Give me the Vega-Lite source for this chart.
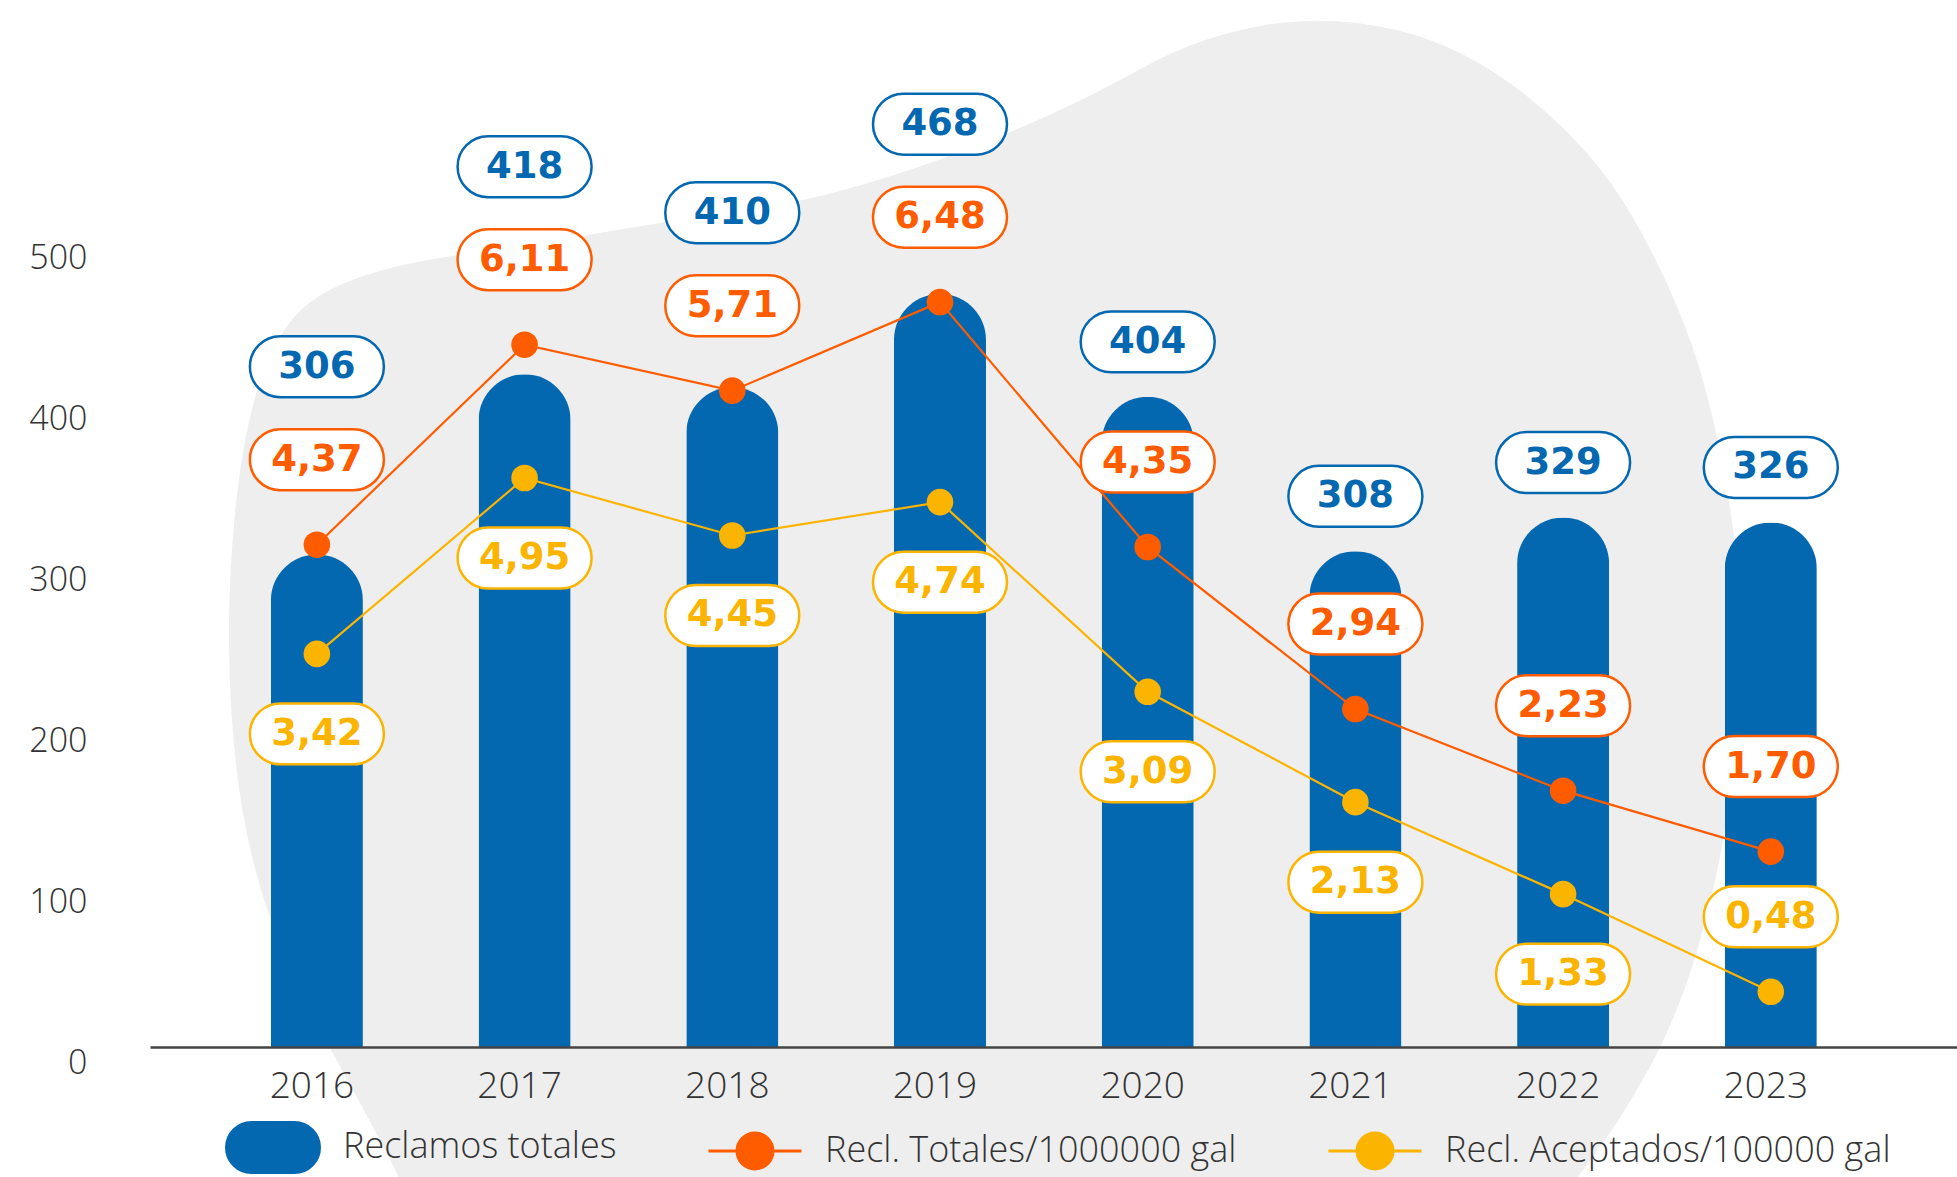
{
  "$schema": "https://vega.github.io/schema/vega-lite/v6.json",
  "width": 1807,
  "height": 1046,
  "autosize": {"type": "none"},
  "padding": {"left": 150, "top": 1, "right": 0, "bottom": 130},
  "background": "#FFFFFF",
  "config": {
    "view": {"stroke": null},
    "font": "Open Sans",
    "locale": {"number": {"decimal": ",", "thousands": ".", "grouping": [3], "currency": ["", ""]}}
  },
  "data": {
    "values": [
      {"year": "2016", "reclamos": 306, "totales": 4.37, "aceptados": 3.42},
      {"year": "2017", "reclamos": 418, "totales": 6.11, "aceptados": 4.95},
      {"year": "2018", "reclamos": 410, "totales": 5.71, "aceptados": 4.45},
      {"year": "2019", "reclamos": 468, "totales": 6.48, "aceptados": 4.74},
      {"year": "2020", "reclamos": 404, "totales": 4.35, "aceptados": 3.09},
      {"year": "2021", "reclamos": 308, "totales": 2.94, "aceptados": 2.13},
      {"year": "2022", "reclamos": 329, "totales": 2.23, "aceptados": 1.33},
      {"year": "2023", "reclamos": 326, "totales": 1.70, "aceptados": 0.48}
    ]
  },
  "encoding": {
    "x": {
      "field": "year", "type": "ordinal", "title": null,
      "scale": {"domain": ["2016", "2017", "2018", "2019", "2020", "2021", "2022", "2023"], "paddingInner": 0.557, "paddingOuter": 0.6285, "align": 0.463},
      "axis": {"zindex": 1, "ticks": false, "grid": false, "domainColor": "#444444", "domainWidth": 2.5, "labelFont": "Open Sans", "labelFontSize": 37, "labelFontWeight": 300, "labelColor": "#333333", "labelPadding": 21, "labelAngle": 0, "labelOffset": -5}
    }
  },
  "layer": [
    {
      "data": {"values": [{}]},
      "mark": {"type": "point", "shape": "M 0.1165 -0.539 Q 0.181 -0.55 0.2495 -0.534 Q 0.318 -0.518 0.3825 -0.4655 Q 0.447 -0.413 0.4845 -0.348 Q 0.522 -0.283 0.5445 -0.218 Q 0.567 -0.153 0.582 -0.058 Q 0.597 0.037 0.593 0.112 Q 0.589 0.187 0.5795 0.251 Q 0.57 0.315 0.5505 0.3825 Q 0.531 0.45 0.502 0.503 Q 0.473 0.556 0.4425 0.5965 Q 0.412 0.637 0.372 0.677 Q 0.332 0.717 -0.183 0.717 Q -0.698 0.717 -0.723 0.6655 Q -0.748 0.614 -0.768 0.5755 Q -0.788 0.537 -0.8105 0.497 Q -0.833 0.457 -0.857 0.405 Q -0.881 0.353 -0.896 0.291 Q -0.911 0.229 -0.916 0.151 Q -0.921 0.073 -0.917 0.005 Q -0.913 -0.063 -0.9045 -0.113 Q -0.896 -0.163 -0.882 -0.198 Q -0.868 -0.233 -0.848 -0.253 Q -0.828 -0.273 -0.788 -0.287 Q -0.748 -0.301 -0.681 -0.3105 Q -0.614 -0.32 -0.547 -0.3315 Q -0.48 -0.343 -0.4175 -0.3515 Q -0.355 -0.36 -0.3015 -0.375 Q -0.248 -0.39 -0.203 -0.4065 Q -0.158 -0.423 -0.109 -0.4445 Q -0.06 -0.466 -0.004 -0.497 Q 0.052 -0.528 0.1165 -0.539 Z", "size": 4000000, "filled": true, "fill": "#EEEEEE", "opacity": 1, "strokeWidth": 0},
      "encoding": {
        "x": {"datum": "2020", "type": "ordinal", "title": null},
        "y": {"datum": 300, "type": "quantitative", "scale": {"domain": [0, 650], "nice": false}, "axis": null}
      }
    },
    {
      "mark": {"type": "bar", "cornerRadiusTopLeft": 46, "cornerRadiusTopRight": 46},
      "encoding": {
        "y": {
          "field": "reclamos", "type": "quantitative", "title": null,
          "scale": {"domain": [0, 650], "nice": false},
          "axis": {"values": [0, 100, 200, 300, 400, 500], "ticks": false, "domain": false, "grid": false, "labelPadding": 63, "labelFont": "Open Sans", "labelFontSize": 34, "labelFontWeight": 300, "labelColor": "#333333", "labelOffset": 16}
        },
        "color": {
          "datum": "Reclamos totales",
          "scale": {"domain": ["Reclamos totales", "Recl. Totales/1000000 gal", "Recl. Aceptados/100000 gal"], "range": ["#0468B1", "#FF5C00", "#FBB400"]},
          "legend": {
            "title": null, "orient": "none", "legendX": 75, "legendY": 1098, "direction": "horizontal", "padding": 0,
            "symbolSize": 8649, "symbolStrokeWidth": 3,
            "labelFont": "Open Sans", "labelFontWeight": 300, "labelFontSize": 36, "labelColor": "#333333", "labelOffset": 22, "labelLimit": 1000, "columnPadding": 85, "labelBaseline": "middle",
            "encode": {
              "symbols": {
                "update": {
                  "shape": {"signal": "datum.value === 'Reclamos totales' ? 'M -0.462 -0.538 L 0.462 -0.538 A 0.538 0.538 0 0 1 0.462 0.538 L -0.462 0.538 A 0.538 0.538 0 0 1 -0.462 -0.538 Z' : 'M -1 0 L 1 0 M 0.387 0 A 0.387 0.387 0 1 1 -0.387 0 A 0.387 0.387 0 1 1 0.387 0 Z'"},
                  "fill": {"signal": "datum.value === 'Reclamos totales' ? '#0468B1' : datum.value === 'Recl. Totales/1000000 gal' ? '#FF5C00' : '#FBB400'"},
                  "stroke": {"signal": "datum.value === 'Reclamos totales' ? '#0468B1' : datum.value === 'Recl. Totales/1000000 gal' ? '#FF5C00' : '#FBB400'"},
                  "strokeWidth": {"value": 3},
                  "opacity": {"value": 1},
                  "fillOpacity": {"value": 1}
                }
              }
            }
          }
        }
      }
    },
    {
      "mark": {"type": "line", "strokeWidth": 2.2},
      "encoding": {
        "y": {"field": "totales", "type": "quantitative", "scale": {"domain": [0, 9.1], "nice": false}, "axis": null},
        "color": {"datum": "Recl. Totales/1000000 gal"}
      }
    },
    {
      "mark": {"type": "line", "strokeWidth": 2.2},
      "encoding": {
        "y": {"field": "aceptados", "type": "quantitative", "scale": {"domain": [0, 9.1], "nice": false}, "axis": null},
        "color": {"datum": "Recl. Aceptados/100000 gal"}
      }
    },
    {
      "mark": {"type": "circle", "size": 707, "opacity": 1},
      "encoding": {
        "y": {"field": "totales", "type": "quantitative", "scale": {"domain": [0, 9.1], "nice": false}, "axis": null},
        "color": {"datum": "Recl. Totales/1000000 gal"}
      }
    },
    {
      "mark": {"type": "circle", "size": 707, "opacity": 1},
      "encoding": {
        "y": {"field": "aceptados", "type": "quantitative", "scale": {"domain": [0, 9.1], "nice": false}, "axis": null},
        "color": {"datum": "Recl. Aceptados/100000 gal"}
      }
    },
    {
      "encoding": {"y": {"field": "totales", "type": "quantitative", "scale": {"domain": [0, 9.1], "nice": false}, "axis": null}},
      "layer": [
        {"mark": {"type": "point", "shape": "M -0.545 -0.455 L 0.545 -0.455 A 0.455 0.455 0 0 1 0.545 0.455 L -0.545 0.455 A 0.455 0.455 0 0 1 -0.545 -0.455 Z", "size": 17956, "filled": true, "fill": "#FFFFFF", "stroke": "#FF5C00", "strokeWidth": 2.5, "opacity": 1, "yOffset": -85}},
        {"mark": {"type": "text", "font": "DejaVu Sans", "fontWeight": "bold", "fontSize": 37, "fill": "#FF5C00", "yOffset": -85, "baseline": "middle", "align": "center"},
         "encoding": {"text": {"field": "totales", "type": "quantitative", "format": ".2f"}}}
      ]
    },
    {
      "transform": [{"filter": "datum.year !== '2023'"}],
      "encoding": {"y": {"field": "aceptados", "type": "quantitative", "scale": {"domain": [0, 9.1], "nice": false}, "axis": null}},
      "layer": [
        {"mark": {"type": "point", "shape": "M -0.545 -0.455 L 0.545 -0.455 A 0.455 0.455 0 0 1 0.545 0.455 L -0.545 0.455 A 0.455 0.455 0 0 1 -0.545 -0.455 Z", "size": 17956, "filled": true, "fill": "#FFFFFF", "stroke": "#FBB400", "strokeWidth": 2.5, "opacity": 1, "yOffset": 80}},
        {"mark": {"type": "text", "font": "DejaVu Sans", "fontWeight": "bold", "fontSize": 37, "fill": "#FBB400", "yOffset": 80, "baseline": "middle", "align": "center"},
         "encoding": {"text": {"field": "aceptados", "type": "quantitative", "format": ".2f"}}}
      ]
    },
    {
      "transform": [{"filter": "datum.year === '2023'"}],
      "encoding": {"y": {"field": "aceptados", "type": "quantitative", "scale": {"domain": [0, 9.1], "nice": false}, "axis": null}},
      "layer": [
        {"mark": {"type": "point", "shape": "M -0.545 -0.455 L 0.545 -0.455 A 0.455 0.455 0 0 1 0.545 0.455 L -0.545 0.455 A 0.455 0.455 0 0 1 -0.545 -0.455 Z", "size": 17956, "filled": true, "fill": "#FFFFFF", "stroke": "#FBB400", "strokeWidth": 2.5, "opacity": 1, "yOffset": -75}},
        {"mark": {"type": "text", "font": "DejaVu Sans", "fontWeight": "bold", "fontSize": 37, "fill": "#FBB400", "yOffset": -75, "baseline": "middle", "align": "center"},
         "encoding": {"text": {"field": "aceptados", "type": "quantitative", "format": ".2f"}}}
      ]
    },
    {
      "transform": [{"filter": "datum.year <= '2019'"}],
      "encoding": {"y": {"field": "totales", "type": "quantitative", "scale": {"domain": [0, 9.1], "nice": false}, "axis": null}},
      "layer": [
        {"mark": {"type": "point", "shape": "M -0.545 -0.455 L 0.545 -0.455 A 0.455 0.455 0 0 1 0.545 0.455 L -0.545 0.455 A 0.455 0.455 0 0 1 -0.545 -0.455 Z", "size": 17956, "filled": true, "fill": "#FFFFFF", "stroke": "#0468B1", "strokeWidth": 2.5, "opacity": 1, "yOffset": -178}},
        {"mark": {"type": "text", "font": "DejaVu Sans", "fontWeight": "bold", "fontSize": 37, "fill": "#0468B1", "yOffset": -178, "baseline": "middle", "align": "center"},
         "encoding": {"text": {"field": "reclamos", "type": "quantitative", "format": "d"}}}
      ]
    },
    {
      "transform": [{"filter": "datum.year >= '2020'"}],
      "encoding": {"y": {"field": "reclamos", "type": "quantitative", "scale": {"domain": [0, 650], "nice": false}, "axis": null}},
      "layer": [
        {"mark": {"type": "point", "shape": "M -0.545 -0.455 L 0.545 -0.455 A 0.455 0.455 0 0 1 0.545 0.455 L -0.545 0.455 A 0.455 0.455 0 0 1 -0.545 -0.455 Z", "size": 17956, "filled": true, "fill": "#FFFFFF", "stroke": "#0468B1", "strokeWidth": 2.5, "opacity": 1, "yOffset": -55}},
        {"mark": {"type": "text", "font": "DejaVu Sans", "fontWeight": "bold", "fontSize": 37, "fill": "#0468B1", "yOffset": -55, "baseline": "middle", "align": "center"},
         "encoding": {"text": {"field": "reclamos", "type": "quantitative", "format": "d"}}}
      ]
    }
  ],
  "resolve": {"scale": {"y": "independent"}}
}
